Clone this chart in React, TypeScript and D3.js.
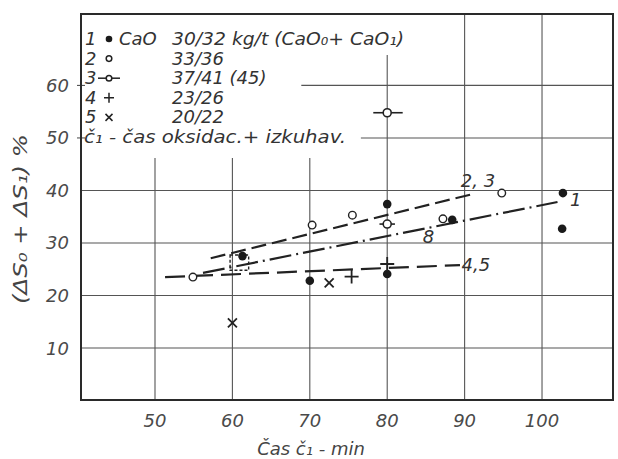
import React, { useRef, useEffect } from "react";
import * as d3 from "d3";

// tick values
const xTicks = [50, 60, 70, 80, 90, 100];
const yTicks = [10, 20, 30, 40, 50, 60];

// measured points (time in min, ΔS in %)
const series1 = [[61.3, 27.5], [70, 22.8], [80, 37.4], [80, 24.1], [88.4, 34.4], [102.7, 39.5], [102.6, 32.7]];
const series2 = [[54.9, 23.5], [70.3, 33.4], [75.5, 35.3], [87.2, 34.6], [94.8, 39.5]];
const series3 = [[80, 54.8, 78.2, 82.0], [80, 33.6, 79.0, 81.0]]; // x, y, bar from, bar to
const series4 = [[75.4, 23.6], [80, 26.0]];
const series5 = [[60, 14.8], [72.5, 22.4]];
const boxPoints = [[59.7, 27.7, 62.1, 24.8]];

// fitted lines
const trend23 = [[57.2, 27.1], [91.0, 39.3]];
const trend1 = [[56.2, 24.3], [102.0, 37.8]];
const trend45 = [[51.3, 23.5], [89.4, 25.8]];

// line labels
const lineLabels = [
  { text: "2, 3", at: [89.5, 40.6] },
  { text: "1", at: [103.6, 37.0] },
  { text: "8", at: [84.6, 30.0] },
  { text: "4,5", at: [89.6, 24.6] },
];

const legendNums = ["1", "2", "3", "4", "5"];
const legendTexts = ["30/32 kg/t (CaO₀+ CaO₁)", "33/36", "37/41 (45)", "23/26", "20/22"];

const FONT = "'DejaVu Sans', sans-serif";

const Chart = () => {
  const ref = useRef<SVGSVGElement | null>(null);

  const draw = (elt: SVGSVGElement) => {
    const width = 618;
    const height = 459;
    const margin = { top: 14, right: 4, bottom: 59, left: 81 };

    const svg = d3.select(elt);
    svg.selectAll("*").remove();

    svg.append("rect").attr("width", width).attr("height", height).attr("fill", "#fff");

    const x = d3.scaleLinear().domain([40.44, 109.17]).range([margin.left, width - margin.right - 1]);
    const y = d3.scaleLinear().domain([0.1, 73.6]).range([height - margin.bottom, margin.top]);

    const grid = svg.append("g").attr("stroke", "#555").attr("stroke-width", 1.1);

    // vertical grid, some stop below the legend
    const vTop: Record<number, number> = { 50: 46.2, 60: 46.2, 70: 46.2, 80: 65.8 };
    xTicks.forEach((t) => {
      grid.append("line")
        .attr("x1", x(t)).attr("x2", x(t))
        .attr("y1", y(vTop[t] ?? 73.6)).attr("y2", y(0.1));
    });
    // horizontal grid
    const hLeft: Record<number, number> = { 50: 76.6, 60: 68.9 };
    yTicks.forEach((t) => {
      grid.append("line")
        .attr("x1", x(hLeft[t] ?? 40.44)).attr("x2", x(109.17))
        .attr("y1", y(t)).attr("y2", y(t));
    });
    // small ticks on left edge where grid is hidden
    [50, 60].forEach((t) => {
      grid.append("line").attr("x1", x(40.44) - 4).attr("x2", x(40.44) + 4).attr("y1", y(t)).attr("y2", y(t));
    });

    // frame
    svg.append("rect")
      .attr("x", x(40.44)).attr("y", y(73.6))
      .attr("width", x(109.17) - x(40.44)).attr("height", y(0.1) - y(73.6))
      .attr("fill", "none").attr("stroke", "#2a2a2a").attr("stroke-width", 2);

    // trend lines
    const line = d3.line<number[]>().x((d) => x(d[0])).y((d) => y(d[1]));
    const trends = [
      { d: trend23, dash: "15,6" },
      { d: trend1, dash: "22,5,2,5" },
      { d: trend45, dash: "20,8" },
    ];
    trends.forEach((t) => {
      svg.append("path")
        .attr("d", line(t.d))
        .attr("fill", "none")
        .attr("stroke", "#222")
        .attr("stroke-width", 2.2)
        .attr("stroke-dasharray", t.dash);
    });

    const marks = svg.append("g").attr("stroke", "#222").attr("stroke-width", 1.6);

    boxPoints.forEach((b) => {
      marks.append("rect")
        .attr("x", x(b[0])).attr("y", y(b[1]))
        .attr("width", x(b[2]) - x(b[0])).attr("height", y(b[3]) - y(b[1]))
        .attr("fill", "none").attr("stroke-dasharray", "3,2").attr("stroke-width", 1.4);
    });

    series3.forEach((p) => {
      marks.append("line").attr("x1", x(p[2])).attr("x2", x(p[3])).attr("y1", y(p[1])).attr("y2", y(p[1]));
      marks.append("circle").attr("cx", x(p[0])).attr("cy", y(p[1])).attr("r", 4).attr("fill", "#fff");
    });
    series2.forEach((p) => {
      marks.append("circle").attr("cx", x(p[0])).attr("cy", y(p[1])).attr("r", 3.8).attr("fill", "#fff").attr("stroke-width", 1.4);
    });
    series1.forEach((p) => {
      marks.append("circle").attr("cx", x(p[0])).attr("cy", y(p[1])).attr("r", 4.3).attr("fill", "#1a1a1a").attr("stroke", "none");
    });
    series4.forEach((p) => {
      const cx = x(p[0]), cy = y(p[1]);
      marks.append("path").attr("d", `M${cx - 7},${cy}H${cx + 7}M${cx},${cy - 7}V${cy + 7}`).attr("stroke-width", 1.8);
    });
    series5.forEach((p) => {
      const cx = x(p[0]), cy = y(p[1]);
      marks.append("path").attr("d", `M${cx - 4.5},${cy - 4.5}L${cx + 4.5},${cy + 4.5}M${cx - 4.5},${cy + 4.5}L${cx + 4.5},${cy - 4.5}`).attr("stroke-width", 1.8);
    });

    const txt = svg.append("g")
      .attr("font-family", FONT)
      .attr("font-style", "italic")
      .attr("fill", "#333");

    // line labels
    lineLabels.forEach((l) => {
      txt.append("text").attr("x", x(l.at[0])).attr("y", y(l.at[1])).attr("font-size", 18).text(l.text);
    });

    // tick labels
    xTicks.forEach((t) => {
      txt.append("text").attr("x", x(t)).attr("y", 427).attr("text-anchor", "middle")
        .attr("font-size", 18).attr("fill", "#4a4a4a").text(t);
    });
    yTicks.forEach((t) => {
      txt.append("text").attr("x", 69).attr("y", y(t) + 6.5).attr("text-anchor", "end")
        .attr("font-size", 18).attr("fill", "#4a4a4a").text(t);
    });

    // axis titles
    txt.append("text").attr("x", 311).attr("y", 455).attr("text-anchor", "middle")
      .attr("font-size", 18).attr("fill", "#444").text("Čas č₁ - min");
    txt.append("text")
      .attr("transform", "translate(27,219) rotate(-90)")
      .attr("text-anchor", "middle").attr("font-size", 20).attr("fill", "#444")
      .attr("textLength", 170).attr("lengthAdjust", "spacingAndGlyphs")
      .text("(ΔS₀ + ΔS₁) %");

    // legend
    const rowY = (i: number) => 45 + i * 19.6;
    const lx = 109;
    legendNums.forEach((n, i) => {
      txt.append("text").attr("x", 85).attr("y", rowY(i)).attr("font-size", 18).text(n);
      const t = txt.append("text").attr("x", 172).attr("y", rowY(i)).attr("font-size", 18).text(legendTexts[i]);
      if (i === 0) t.attr("textLength", 232).attr("lengthAdjust", "spacingAndGlyphs");
    });
    txt.append("text").attr("x", 119).attr("y", rowY(0)).attr("font-size", 18).text("CaO");

    const lg = svg.append("g").attr("stroke", "#222").attr("stroke-width", 1.5);
    const cy = (i: number) => rowY(i) - 6;
    lg.append("circle").attr("cx", lx).attr("cy", cy(0)).attr("r", 3.3).attr("fill", "#1a1a1a").attr("stroke", "none");
    lg.append("circle").attr("cx", lx).attr("cy", cy(1)).attr("r", 2.8).attr("fill", "#fff");
    lg.append("line").attr("x1", lx - 11).attr("x2", lx + 11).attr("y1", cy(2)).attr("y2", cy(2));
    lg.append("circle").attr("cx", lx).attr("cy", cy(2)).attr("r", 2.8).attr("fill", "#fff");
    lg.append("path").attr("d", `M${lx - 5},${cy(3)}H${lx + 5}M${lx},${cy(3) - 5}V${cy(3) + 5}`);
    lg.append("path").attr("d", `M${lx - 3.5},${cy(4) - 3.5}L${lx + 3.5},${cy(4) + 3.5}M${lx - 3.5},${cy(4) + 3.5}L${lx + 3.5},${cy(4) - 3.5}`);

    txt.append("text").attr("x", 84).attr("y", rowY(5)).attr("font-size", 18)
      .attr("textLength", 262).attr("lengthAdjust", "spacingAndGlyphs")
      .text("č₁ - čas  oksidac.+ izkuhav.");
  };

  useEffect(() => {
    if (ref.current) draw(ref.current);
  }, []);

  return (
    <svg ref={ref} width={618} height={459}
      style={{ position: "absolute", left: 0, top: 0, display: "block" }} />
  );
};

export default function App() {
  return <Chart />;
}
